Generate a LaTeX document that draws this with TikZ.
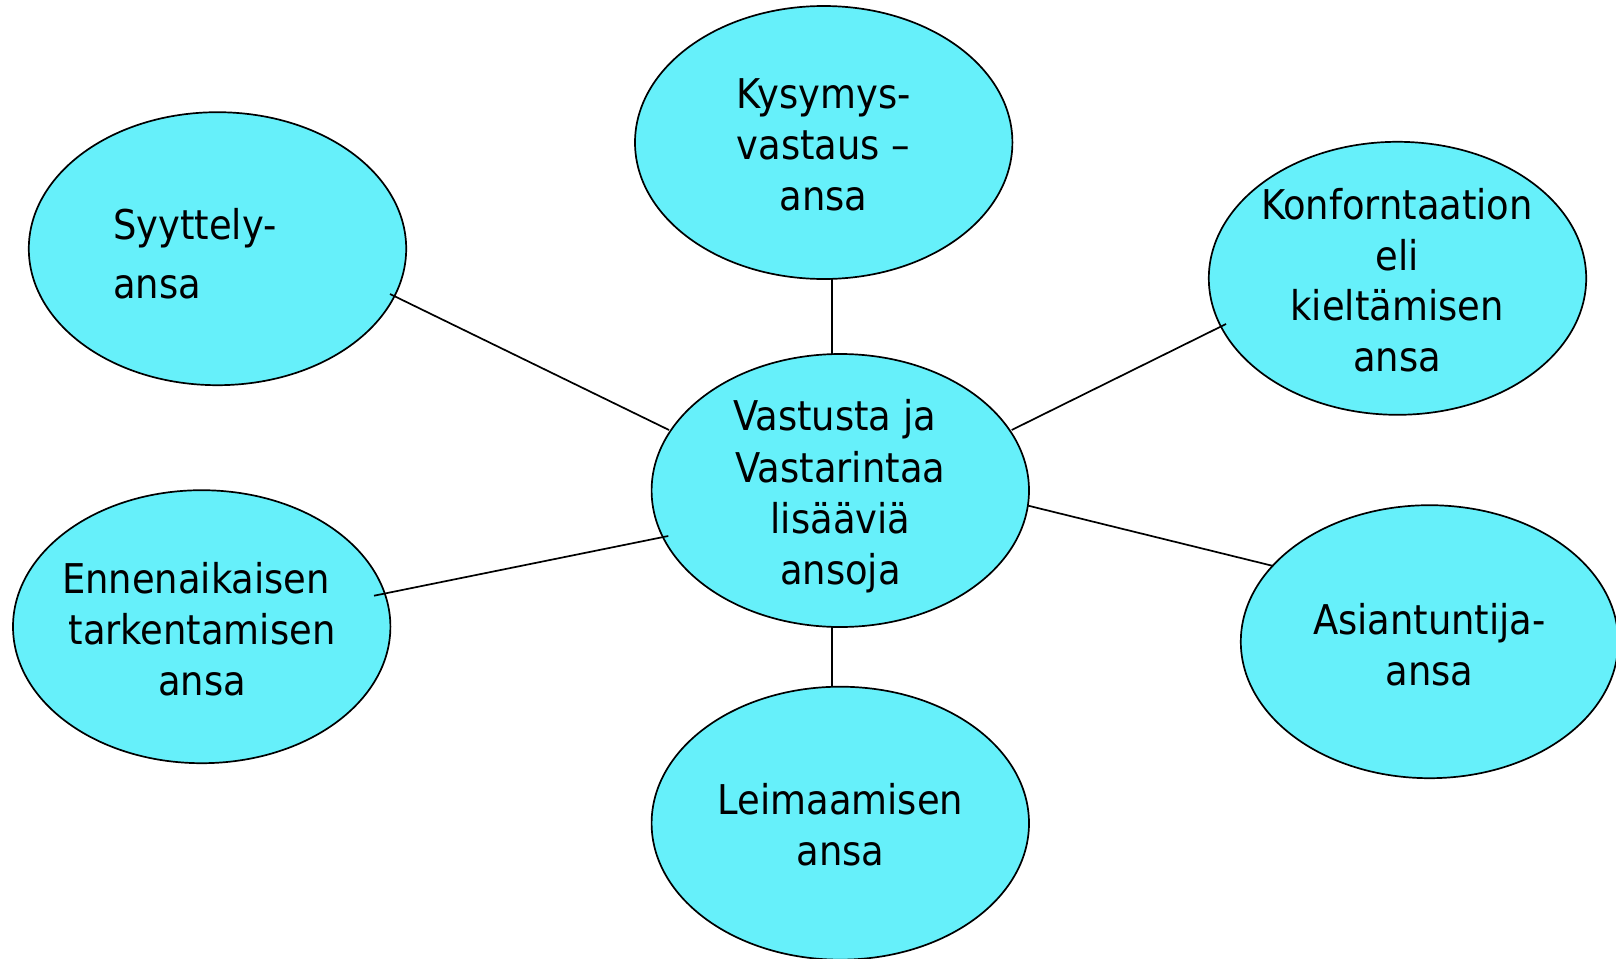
\documentclass[tikz,border=0pt]{standalone}
\usepackage{fontspec}
\setmainfont{DejaVu Sans Condensed}
\usetikzlibrary{shapes.geometric,calc}
\definecolor{bubblecyan}{RGB}{102,240,250}
% uniform line strut: 32pt above and 10pt below the baseline
\newcommand{\ls}{\rule[-10pt]{0pt}{42pt}}
\begin{document}
\begin{tikzpicture}[x=1pt,y=-1pt,
  bubble/.style={ellipse,draw=black,line width=1.7pt,fill=bubblecyan,
    minimum width=377.4pt,minimum height=273pt,inner sep=0pt,outer sep=0pt},
  bubbletext/.style={inner sep=0pt,align=center,font=\fontsize{41}{50.8}\selectfont},
  link/.style={draw=black,line width=1.7pt}]
\useasboundingbox (0,0) rectangle (1616,958);

% ellipses
\node[bubble] (hub) at (840.3,490.5) {};
\node[bubble] (kys) at (823.7,142.5) {};
\node[bubble] (syy) at (217.5,248.7) {};
\node[bubble] (kon) at (1397.5,278.3) {};
\node[bubble] (enn) at (201.7,626.7) {};
\node[bubble] (asi) at (1429.5,641.7) {};
\node[bubble] (lei) at (840.3,823.2) {};

% connectors from the hub to each trap
\draw[link] ($(kys.south)+(8,0)$) -- ($(hub.north)+(-8.6,0)$);
\draw[link] ($(syy.center)+(172.5,45.3)$) -- ($(hub.center)+(-171.3,-60.5)$);
\draw[link] ($(enn.center)+(172.3,-31)$) -- ($(hub.center)+(-172,45.5)$);
\draw[link] ($(hub.center)+(171.4,-60.5)$) -- ($(kon.center)+(-171.5,45.7)$);
\draw[link] ($(hub.center)+(188,15.2)$) -- ($(asi.center)+(-156.2,-75.7)$);
\draw[link] ($(hub.south)+(-8.3,0)$) -- ($(lei.north)+(-8.3,0)$);

% texts
\node[bubbletext,font=\fontsize{41}{51.4}\selectfont] (hubt) at (840.5,496.85)
  {\ls Vastusta ja\hspace*{11.7pt}\\\ls Vastarintaa\\\ls lisääviä\\\ls ansoja};
\node[bubbletext] (kyst) at (823.5,148.2)
  {\ls Kysymys-\\\ls vastaus –\\\ls ansa};
\node[bubbletext,align=left,anchor=west,font=\fontsize{41}{59.5}\selectfont] (syyt) at (113,257.8)
  {\ls Syyttely-\\\ls ansa};
\node[bubbletext] (kont) at (1397,284.5)
  {\ls Konforntaation\\\ls eli\hspace*{11.7pt}\\\ls kieltämisen\hspace*{11.7pt}\\\ls ansa};
\node[bubbletext] (ennt) at (202,633.2)
  {\ls Ennenaikaisen\hspace*{11.7pt}\\\ls tarkentamisen\\\ls ansa};
\node[bubbletext] (asit) at (1429.4,649)
  {\ls Asiantuntija-\\\ls ansa};
\node[bubbletext] (leit) at (840.5,829)
  {\ls Leimaamisen\\\ls ansa};
\end{tikzpicture}
\end{document}
